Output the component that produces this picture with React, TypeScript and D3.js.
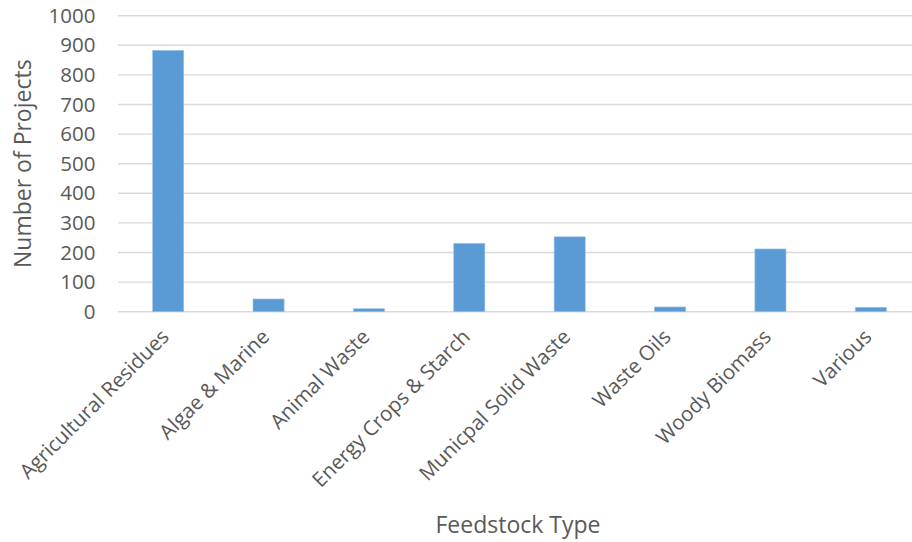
import React from "react";
import * as d3 from "d3";

const categories = [
  "Agricultural Residues",
  "Algae & Marine",
  "Animal Waste",
  "Energy Crops & Starch",
  "Municpal Solid Waste",
  "Waste Oils",
  "Woody Biomass",
  "Various",
];
const values = [883, 43, 10, 231, 253, 16, 212, 15];
const yTicks = [0, 100, 200, 300, 400, 500, 600, 700, 800, 900, 1000];
const yTitle = "Number of Projects";
const xTitle = "Feedstock Type";

const W = 912;
const H = 542;
const left = 118;
const right = 921;
const top = 15.7;
const bottom = 311.7;
const FONT = "'Open Sans', sans-serif";
const TEXT = "#595959";

export default function App() {
  const x = d3.scaleBand<string>().domain(categories).range([left, right]).paddingInner(0.69).paddingOuter(0.345);
  const y = d3.scaleLinear().domain([0, 1000]).range([bottom, top]);
  return (
    <svg width={W} height={H} style={{ position: "absolute", left: 0, top: 0, background: "#fff" }}>
      <rect width={W} height={H} fill="#fff" />
      {yTicks.map((t) => (
        <g key={t}>
          <line x1={left} x2={right} y1={y(t)} y2={y(t)} stroke="#d9d9d9" strokeWidth={1.4} />
          <text x={95.5} y={y(t)} dy="0.35em" textAnchor="end" fontFamily={FONT} fontSize={20.5} fill={TEXT}>
            {t}
          </text>
        </g>
      ))}
      {categories.map((c, i) => (
        <rect key={c} x={x(c)} y={y(values[i])} width={x.bandwidth()} height={y(0) - y(values[i])} fill="#5b9bd5" stroke="#9dc3e6" strokeWidth={0.6} />
      ))}
      {categories.map((c) => {
        const cx = (x(c) as number) + x.bandwidth() / 2;
        return (
          <text key={c} transform={`translate(${cx + 2},${338}) rotate(-45)`} textAnchor="end" fontFamily={FONT} fontSize={20.5} fill={TEXT}>
            {c}
          </text>
        );
      })}
      <text transform={`translate(31,${(top + bottom) / 2}) rotate(-90)`} textAnchor="middle" fontFamily={FONT} fontSize={23} fill={TEXT}>
        {yTitle}
      </text>
      <text x={518} y={533} textAnchor="middle" fontFamily={FONT} fontSize={23} fill={TEXT}>
        {xTitle}
      </text>
    </svg>
  );
}
